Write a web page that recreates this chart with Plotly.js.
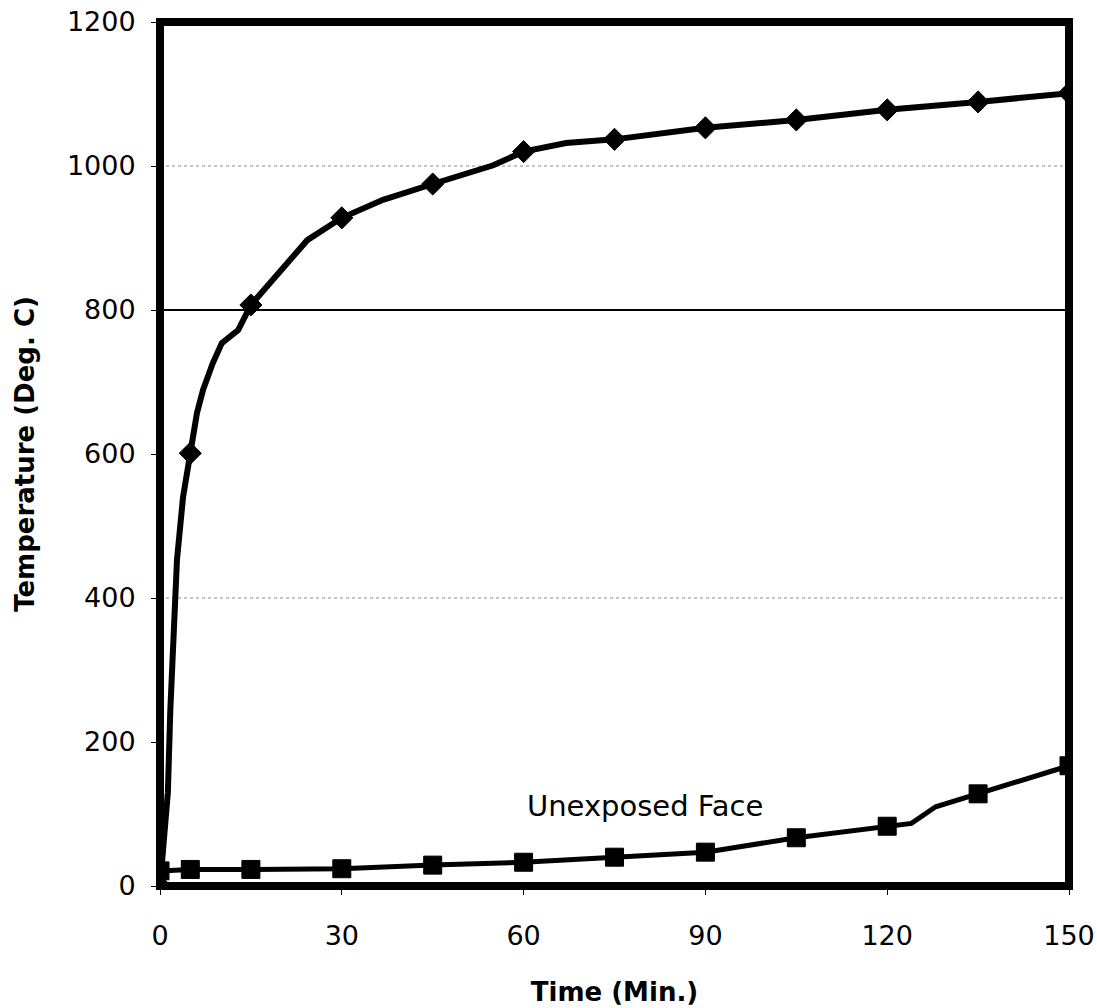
<!DOCTYPE html>
<html>
<head>
<meta charset="utf-8">
<script src="https://cdn.plot.ly/plotly-3.0.1.min.js"></script>
<style>html,body{margin:0;padding:0;background:#fff;}#chart{width:1097px;height:1008px;}</style>
</head>
<body>
<div id="chart"></div>
<script>
// Furnace (exposed) curve
var fireTime = [0, 1.3, 1.7, 2.1, 2.8, 3.8, 5, 6.1, 7.1, 8.7, 10.2, 12.9, 15, 20.3, 24.3, 30, 36.8, 45, 55, 60, 67, 75, 90, 105, 120, 135, 150];
var fireTemp = [0, 130, 244, 314, 453, 540, 601, 657, 689, 726, 754, 772, 807, 860, 897, 928, 953, 975, 1001, 1020, 1032, 1037, 1053, 1064, 1078, 1089, 1101];
var fireMarked = [0, 5, 15, 30, 45, 60, 75, 90, 105, 120, 135, 150];

// Unexposed face curve
var faceTime = [0, 5, 15, 30, 45, 60, 75, 90, 105, 120, 124, 128, 135, 150];
var faceTemp = [21, 23, 23, 24, 29, 33, 40, 47, 67, 83, 87, 110, 128, 167];
var faceMarked = [0, 5, 15, 30, 45, 60, 75, 90, 105, 120, 135, 150];

var xTicks = [0, 30, 60, 90, 120, 150];
var yTicks = [0, 200, 400, 600, 800, 1000, 1200];
var dottedGrid = [400, 1000];
var solidGrid = [800];

var labelText = "Unexposed Face";
var labelPos = [80, 111];

function sizes(times, marked, s) {
  return times.map(function (t) { return marked.indexOf(t) >= 0 ? s : 0; });
}

var traces = [
  {
    x: fireTime, y: fireTemp, type: 'scatter', mode: 'lines+markers',
    line: {color: '#000', width: 6},
    marker: {symbol: 'diamond', color: '#000', opacity: 1, line: {color: '#000', width: 1},
      size: sizes(fireTime, fireMarked, 17)},
    hoverinfo: 'x+y', showlegend: false
  },
  {
    x: faceTime, y: faceTemp, type: 'scatter', mode: 'lines+markers',
    line: {color: '#000', width: 5},
    marker: {symbol: 'square', color: '#000', opacity: 1, line: {color: '#000', width: 1},
      size: sizes(faceTime, faceMarked, 18)},
    hoverinfo: 'x+y', showlegend: false
  }
];

var shapes = [];
dottedGrid.forEach(function (v) {
  shapes.push({type: 'line', xref: 'paper', yref: 'y', x0: 0, x1: 1, y0: v, y1: v,
    line: {color: '#888', width: 1, dash: 'dot'}, layer: 'below'});
});
solidGrid.forEach(function (v) {
  shapes.push({type: 'line', xref: 'paper', yref: 'y', x0: 0, x1: 1, y0: v, y1: v,
    line: {color: '#000', width: 2}, layer: 'below'});
});
shapes.push({type: 'rect', xref: 'paper', yref: 'paper', x0: 0, x1: 1, y0: 0, y1: 1,
  line: {color: '#000', width: 8}, fillcolor: 'rgba(0,0,0,0)', layer: 'above'});

var tickFont = {family: 'DejaVu Sans, Arial, sans-serif', size: 27, color: '#000'};
var titleFont = {family: 'DejaVu Sans, Arial, sans-serif', size: 26, color: '#000', weight: 'bold'};

var layout = {
  width: 1097, height: 1008,
  margin: {l: 160, r: 28, t: 22, b: 122, pad: 0},
  paper_bgcolor: '#fff', plot_bgcolor: '#fff',
  showlegend: false,
  xaxis: {
    range: [0, 150], tickvals: xTicks, ticktext: xTicks.map(String),
    showgrid: false, zeroline: false, showline: false,
    ticks: 'outside', ticklen: 8, tickcolor: '#000', tickwidth: 1,
    tickfont: tickFont, ticklabelstandoff: 18,
    title: {text: 'Time (Min.)', font: titleFont, standoff: 32}
  },
  yaxis: {
    range: [0, 1200], tickvals: yTicks, ticktext: yTicks.map(String),
    showgrid: false, zeroline: false, showline: false,
    ticks: 'outside', ticklen: 8, tickcolor: '#000', tickwidth: 1,
    tickfont: tickFont, ticklabelstandoff: 10,
    title: {text: 'Temperature (Deg. C)', font: titleFont, standoff: 24}
  },
  shapes: shapes,
  annotations: [{
    x: labelPos[0], y: labelPos[1], xref: 'x', yref: 'y', text: labelText,
    showarrow: false, font: {family: 'DejaVu Sans, Arial, sans-serif', size: 29, color: '#000'}
  }]
};

Plotly.newPlot('chart', traces, layout, {displayModeBar: false, staticPlot: true});
</script>
</body>
</html>
